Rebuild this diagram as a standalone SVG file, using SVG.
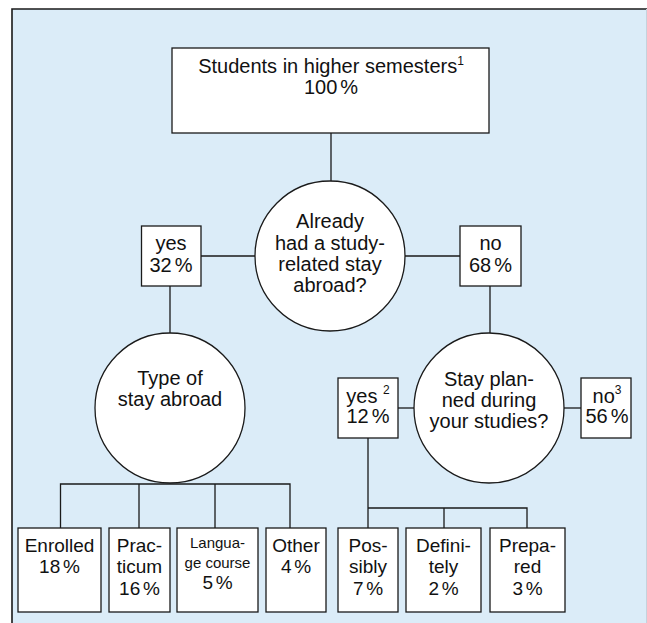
<svg xmlns="http://www.w3.org/2000/svg" width="647" height="623" viewBox="0 0 647 623">
<style>
.bx{fill:#fff;stroke:#1a1a1a;stroke-width:1.3}
.cn{fill:none;stroke:#1a1a1a;stroke-width:1.3}
text{font-family:"Liberation Sans",Arial,sans-serif;font-size:20px;fill:#111;text-anchor:middle}
.b{font-size:19px}
.sm{font-size:15px}
.sup{font-size:12px}
.pc{word-spacing:-2.5px}
</style>
<rect x="0" y="0" width="647" height="623" fill="#fff"/>
<rect x="12" y="9" width="640" height="620" fill="#dbecf8"/>
<path d="M12 623V9H647" fill="none" stroke="#1a1a1a" stroke-width="1.6"/>
<path d="M646.5 9V623" fill="none" stroke="#c5d2dc" stroke-width="1"/>
<g id="connectors">
<path class="cn" d="M331 133V181"/>
<path class="cn" d="M201 256H255"/>
<path class="cn" d="M405 256H460"/>
<path class="cn" d="M170 286V333"/>
<path class="cn" d="M490 286V333"/>
<path class="cn" d="M398 408H414"/>
<path class="cn" d="M564 408H581"/>
<path class="cn" d="M60.5 528V484H290V528M139 484V528M215 484V528"/>
<path class="cn" d="M368 438V528M368 508H527V528M444 508V528"/>
</g>
<g id="top">
<rect class="bx" x="172" y="48" width="317" height="85"/>
<text x="331" y="73">Students in higher semesters<tspan class="sup" dy="-8">1</tspan></text>
<text class="pc" x="331" y="94">100 %</text>
</g>
<g id="q1">
<circle class="bx" cx="330" cy="256" r="75"/>
<text x="330" y="228">Already</text>
<text x="330" y="250">had a study-</text>
<text x="330" y="271">related stay</text>
<text x="330" y="292">abroad?</text>
</g>
<g id="yes1">
<rect class="bx" x="141.5" y="226" width="59.5" height="60"/>
<text x="171" y="250">yes</text>
<text class="pc" x="171" y="272">32 %</text>
</g>
<g id="no1">
<rect class="bx" x="460" y="226" width="61" height="60"/>
<text x="490.5" y="250">no</text>
<text class="pc" x="490.5" y="272">68 %</text>
</g>
<g id="q2">
<circle class="bx" cx="170" cy="408" r="75"/>
<text x="170" y="385">Type of</text>
<text x="170" y="406">stay abroad</text>
</g>
<g id="q3">
<circle class="bx" cx="489" cy="408" r="75"/>
<text x="489" y="386">Stay plan-</text>
<text x="489" y="407">ned during</text>
<text x="489" y="428">your studies?</text>
</g>
<g id="yes2">
<rect class="bx" x="338" y="378" width="60" height="60"/>
<text x="368" y="403">yes <tspan class="sup" dy="-9">2</tspan></text>
<text class="pc" x="368" y="423">12 %</text>
</g>
<g id="no2">
<rect class="bx" x="581" y="378" width="50" height="60"/>
<text x="607" y="403">no<tspan class="sup" dy="-9">3</tspan></text>
<text class="pc" x="607" y="423">56 %</text>
</g>
<g id="enrolled">
<rect class="bx" x="18" y="528" width="83" height="84"/>
<text class="b" x="59.5" y="552">Enrolled</text>
<text class="b pc" x="59.5" y="573">18 %</text>
</g>
<g id="practicum">
<rect class="bx" x="109" y="528" width="61" height="84"/>
<text class="b" x="139.5" y="552">Prac-</text>
<text class="b" x="139.5" y="573">ticum</text>
<text class="b pc" x="139.5" y="595">16 %</text>
</g>
<g id="language">
<rect class="bx" x="177" y="528" width="81" height="84"/>
<text class="sm" x="217.5" y="548">Langua-</text>
<text class="sm" x="217.5" y="568">ge course</text>
<text class="b pc" x="217.5" y="589">5 %</text>
</g>
<g id="other">
<rect class="bx" x="266" y="528" width="60" height="84"/>
<text class="b" x="296" y="552">Other</text>
<text class="b pc" x="296" y="573">4 %</text>
</g>
<g id="possibly">
<rect class="bx" x="338" y="528" width="60" height="84"/>
<text class="b" x="368" y="552">Pos-</text>
<text class="b" x="368" y="573">sibly</text>
<text class="b pc" x="368" y="595">7 %</text>
</g>
<g id="definitely">
<rect class="bx" x="406" y="528" width="75" height="84"/>
<text class="b" x="443.5" y="552">Defini-</text>
<text class="b" x="443.5" y="573">tely</text>
<text class="b pc" x="443.5" y="595">2 %</text>
</g>
<g id="prepared">
<rect class="bx" x="490" y="528" width="75" height="84"/>
<text class="b" x="527.5" y="552">Prepa-</text>
<text class="b" x="527.5" y="573">red</text>
<text class="b pc" x="527.5" y="595">3 %</text>
</g>
</svg>
